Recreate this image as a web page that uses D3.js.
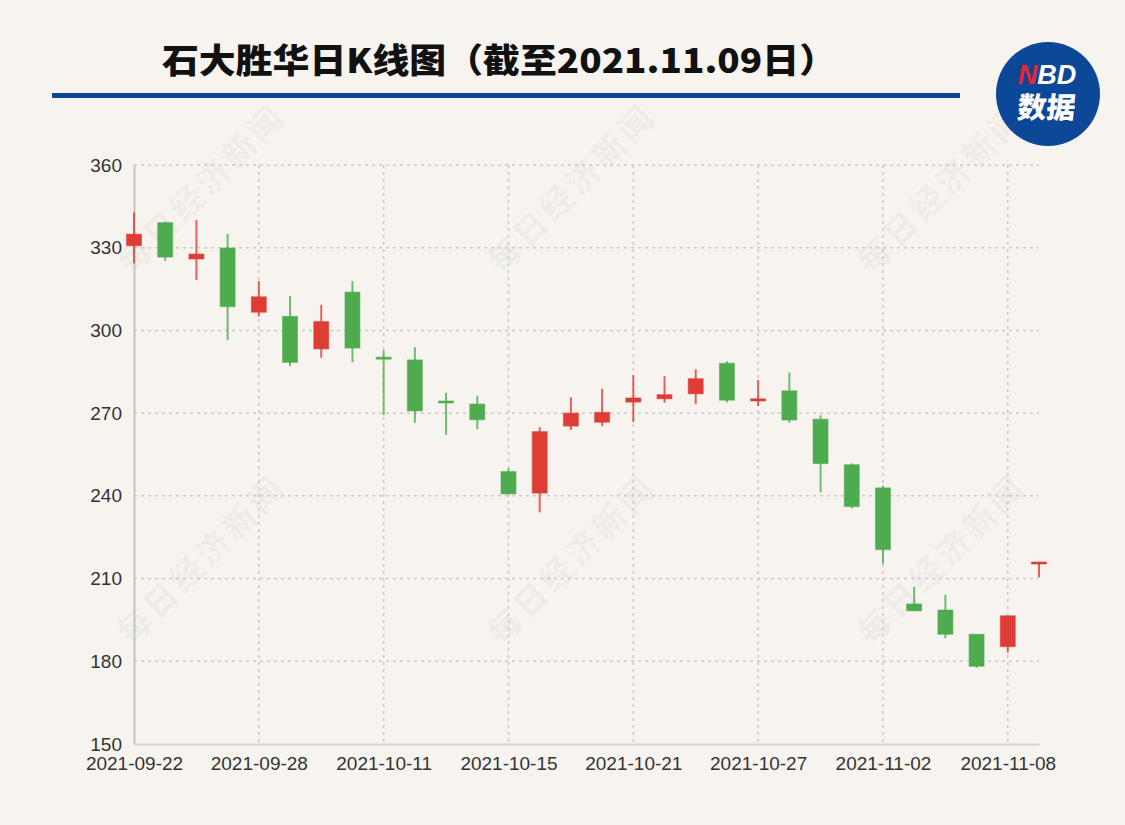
<!DOCTYPE html>
<html><head><meta charset="utf-8">
<script src="https://cdn.jsdelivr.net/npm/d3@7"></script>
<style>html,body{margin:0;padding:0;background:#f7f4f0;}</style>
</head><body>
<svg id="c" width="1125" height="825"></svg>
<script>
// ---- data ----
const dates = ["2021-09-22","2021-09-23","2021-09-24","2021-09-27","2021-09-28","2021-09-29","2021-09-30","2021-10-08","2021-10-11","2021-10-12","2021-10-13","2021-10-14","2021-10-15","2021-10-18","2021-10-19","2021-10-20","2021-10-21","2021-10-22","2021-10-25","2021-10-26","2021-10-27","2021-10-28","2021-10-29","2021-11-01","2021-11-02","2021-11-03","2021-11-04","2021-11-05","2021-11-08","2021-11-09"];
const openV  = [330.7,339.1,325.9,329.9,306.6,305.1,293.3,313.9,290.3,289.3,274.4,273.3,248.8,241.0,265.3,266.7,274.0,275.2,277.0,288.1,274.4,278.1,267.8,251.3,242.9,200.8,198.6,189.8,185.3,216.0];
const closeV = [334.9,326.6,327.7,308.6,312.2,288.4,303.2,293.6,289.9,270.8,273.7,267.6,240.7,263.3,270.0,270.3,275.5,276.7,282.5,274.7,275.2,267.5,251.7,236.1,220.5,198.3,189.8,178.2,196.5,216.0];
const lowV   = [324.3,325.2,318.3,296.5,305.0,287.1,290.1,288.4,269.3,266.5,262.1,264.2,240.5,234.0,263.9,265.3,266.8,273.8,273.3,273.9,272.6,266.5,241.3,235.5,215.3,198.3,188.4,177.6,183.1,210.5];
const highV  = [342.8,339.5,340.0,335.0,317.9,312.5,309.3,317.9,292.8,293.9,277.4,276.3,250.0,264.9,275.7,278.8,283.8,283.4,285.9,288.8,282.0,284.7,269.2,251.8,243.8,207.0,204.1,189.8,196.5,216.0];
const yTicks = [150,180,210,240,270,300,330,360];
const xTickLabels = ["2021-09-22","2021-09-28","2021-10-11","2021-10-15","2021-10-21","2021-10-27","2021-11-02","2021-11-08"];
const titleText = "石大胜华日K线图（截至2021.11.09日）";
const watermarkText = "每日经济新闻";

// ---- layout ----
const svg = d3.select("#c");
const W = 1125, H = 825;
const pL = 134, pR = 1039, pT = 165, pB = 744;
const UP = "#de3c34", DOWN = "#4fac4e";

svg.append("rect").attr("width",W).attr("height",H).attr("fill","#f7f4f0");

// watermarks
const wmPos = [[200,187],[570,187],[940,187],[200,558],[570,558],[940,558]];
svg.append("g").selectAll("text").data(wmPos).join("text")
  .attr("transform", d => `translate(${d[0]},${d[1]}) rotate(-45)`)
  .attr("text-anchor","middle").attr("dominant-baseline","central")
  .attr("font-family","'Noto Sans CJK SC'").attr("font-weight",700)
  .attr("font-size",33).attr("letter-spacing",4)
  .attr("fill","#000").attr("fill-opacity",0.05)
  .text(watermarkText);

// title
svg.append("text").attr("x",162).attr("y",73)
  .attr("font-family","'Noto Sans CJK SC'").attr("font-weight",900)
  .attr("font-size",34).attr("fill","#111")
  .attr("textLength",674).attr("lengthAdjust","spacingAndGlyphs")
  .text(titleText);
svg.append("rect").attr("x",52).attr("y",93).attr("width",908).attr("height",5).attr("fill","#0b4596");

// logo
const lg = svg.append("g");
lg.append("circle").attr("cx",1048).attr("cy",94).attr("r",52).attr("fill","#0d4898");
const nbd = lg.append("text").attr("x",1047).attr("y",84).attr("text-anchor","middle")
  .attr("font-family","'Liberation Sans'").attr("font-weight",700).attr("font-style","italic")
  .attr("font-size",27).attr("fill","#fff");
nbd.append("tspan").attr("fill","#e8262e").text("N");
nbd.append("tspan").text("BD");
lg.append("text").attr("x",1047).attr("y",118).attr("text-anchor","middle")
  .attr("font-family","'Noto Sans CJK SC'").attr("font-weight",900)
  .attr("font-size",29).attr("fill","#fff").attr("transform","skewX(-6) translate(11,0)")
  .text("数据");

// scales
const x = d3.scalePoint().domain(dates).range([pL,pR]);
const y = d3.scaleLinear().domain([150,360]).range([pB,pT]);

// grid
const grid = svg.append("g").attr("stroke","#c9c9c9").attr("stroke-width",1.5).attr("stroke-dasharray","3,4");
grid.selectAll(".h").data(yTicks.filter(v=>v>150)).join("line")
  .attr("x1",pL).attr("x2",pR).attr("y1",d=>y(d)).attr("y2",d=>y(d));
grid.selectAll(".v").data(xTickLabels.slice(1)).join("line")
  .attr("x1",d=>x(d)).attr("x2",d=>x(d)).attr("y1",pT).attr("y2",pB);

// axes
const yAxis = svg.append("g").attr("transform",`translate(${pL},0)`)
  .call(d3.axisLeft(y).tickValues(yTicks).tickSize(0).tickPadding(12));
yAxis.select(".domain").attr("stroke","#c4c4c4").attr("stroke-width",2);
yAxis.selectAll("text").attr("font-family","'Liberation Sans'").attr("font-size",19).attr("fill","#333");

const xAxis = svg.append("g").attr("transform",`translate(0,${pB})`)
  .call(d3.axisBottom(x).tickValues(xTickLabels).tickSize(0).tickPadding(13));
xAxis.select(".domain").attr("stroke","#d4d4d4").attr("stroke-width",2);
xAxis.selectAll("text").attr("font-family","'Liberation Sans'").attr("font-size",19).attr("fill","#333");

// candles
const data = dates.map((d,i)=>({d, o:openV[i], c:closeV[i], l:lowV[i], h:highV[i]}));
const col = d => d.c >= d.o ? UP : DOWN;
const cg = svg.append("g");
cg.selectAll(".wick").data(data).join("line")
  .attr("x1",d=>x(d.d)).attr("x2",d=>x(d.d))
  .attr("y1",d=>y(d.h)).attr("y2",d=>y(d.l))
  .attr("stroke",col).attr("stroke-opacity",0.8).attr("stroke-width",2);
const bw = 15;
cg.selectAll(".body").data(data).join("rect")
  .attr("x",d=>x(d.d)-bw/2).attr("width",bw)
  .attr("y",d=>y(Math.max(d.o,d.c)))
  .attr("height",d=>Math.max(2, Math.abs(y(d.o)-y(d.c))))
  .attr("fill",col).attr("stroke",col).attr("stroke-opacity",0.55).attr("stroke-width",1);
</script>
</body></html>
